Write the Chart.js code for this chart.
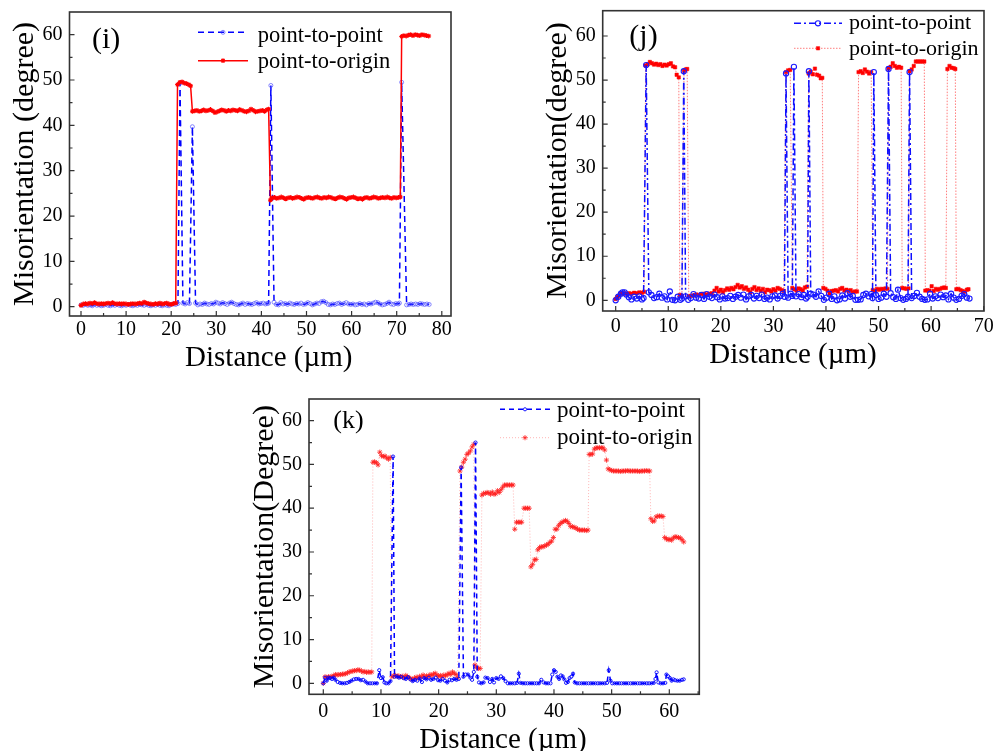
<!DOCTYPE html>
<html>
<head>
<meta charset="utf-8">
<script src="https://cdn.jsdelivr.net/npm/chart.js@4.4.1/dist/chart.umd.min.js"></script>
<style>
  body { margin: 0; background: #fff; }
  #page { position: relative; width: 995px; height: 751px; overflow: hidden; background: #fff; }
  .panel { position: absolute; }
  .panel canvas { display: block; }
</style>
</head>
<body>
<div id="page">
  <div class="panel" style="left:0px;top:0px"><canvas id="chartI" width="460" height="375"></canvas></div>
  <div class="panel" style="left:530px;top:0px"><canvas id="chartJ" width="465" height="375"></canvas></div>
  <div class="panel" style="left:240px;top:385px"><canvas id="chartK" width="470" height="366"></canvas></div>
</div>
<script>
// ---- text ----
const seriesNames = ['point-to-point', 'point-to-origin'];
const panelLabels = ['(i)', '(j)', '(k)'];
const xTitle = 'Distance (µm)';
const yTitles = ['Misorientation (degree)', 'Misorientation(degree)', 'Misorientation(Degree)'];

// ---- ticks ----
const yTicks = [0, 10, 20, 30, 40, 50, 60];
const yMinor = [5, 15, 25, 35, 45, 55];
const xTicksI = [0, 10, 20, 30, 40, 50, 60, 70, 80];
const xMinorI = [5, 15, 25, 35, 45, 55, 65, 75];
const xTicksJ = [0, 10, 20, 30, 40, 50, 60, 70];
const xMinorJ = [5, 15, 25, 35, 45, 55, 65];
const xTicksK = [0, 10, 20, 30, 40, 50, 60];
const xMinorK = [5, 15, 25, 35, 45, 55, 65];

// ---- (i) point-to-point ----
const ptpDistI = [
  0, 0.5, 1, 1.5, 2, 2.5, 3, 3.5, 4, 4.5,
  5, 5.5, 6, 6.5, 7, 7.5, 8, 8.5, 9, 9.5,
  10, 10.5, 11, 11.5, 12, 12.5, 13, 13.5, 14, 14.5,
  15, 15.5, 16, 16.5, 17, 17.5, 18, 18.5, 19, 19.5,
  20, 20.5, 21, 21.5, 21.95, 22.6, 23.1, 23.6, 24.05, 24.7,
  25.4, 25.9, 26.4, 26.9, 27.4, 27.9, 28.4, 28.9, 29.4, 29.9,
  30.4, 30.9, 31.4, 31.9, 32.4, 32.9, 33.4, 33.9, 34.4, 34.9,
  35.4, 35.9, 36.4, 36.9, 37.4, 37.9, 38.4, 38.9, 39.4, 39.9,
  40.4, 40.9, 41.3, 41.6, 42.1, 42.8, 43.3, 43.8, 44.3, 44.8,
  45.3, 45.8, 46.3, 46.8, 47.3, 47.8, 48.3, 48.8, 49.3, 49.8,
  50.3, 50.8, 51.3, 51.8, 52.3, 52.8, 53.3, 53.8, 54.3, 54.8,
  55.3, 55.8, 56.3, 56.8, 57.3, 57.8, 58.3, 58.8, 59.3, 59.8,
  60.3, 60.8, 61.3, 61.8, 62.3, 62.8, 63.3, 63.8, 64.3, 64.8,
  65.3, 65.8, 66.3, 66.8, 67.3, 67.8, 68.3, 68.8, 69.3, 69.8,
  70.3, 70.6, 71.1, 72.2, 72.7, 73.2, 73.7, 74.2, 74.7, 75.2,
  75.7, 76.2, 76.7, 77.2
];
const ptpI = [
  0.4, 0.3, 0.5, 0.3, 0.4, 0.2, 0.5, 0.3, 0.4, 0.2,
  0.3, 0.5, 0.3, 0.2, 0.4, 0.3, 0.5, 0.3, 0.2, 0.4,
  0.3, 0.5, 0.3, 0.2, 0.4, 0.3, 0.5, 0.4, 0.3, 0.5,
  0.3, 0.2, 0.4, 0.3, 0.5, 0.3, 0.2, 0.4, 0.3, 0.2,
  0.5, 0.6, 0.5, 0.7, 49.3, 0.8, 0.6, 0.9, 0.7, 39.7,
  0.8, 0.4, 0.6, 0.5, 0.8, 0.6, 0.5, 0.7, 0.6, 1.0,
  0.8, 0.6, 0.9, 0.7, 0.5, 0.8, 1.0, 0.7, 0.5, 0.4,
  0.6, 0.8, 0.5, 0.7, 0.6, 0.5, 0.7, 0.9, 0.6, 0.7,
  0.8, 0.6, 0.7, 0.8, 48.8, 1.0, 0.5, 0.4, 0.9, 0.6,
  0.7, 0.5, 0.8, 0.6, 0.5, 0.7, 0.6, 0.8, 0.5, 0.6,
  0.9, 0.7, 0.4, 0.6, 0.8, 0.7, 1.1, 1.2, 0.9, 0.5,
  0.4, 0.6, 0.5, 0.7, 0.8, 0.5, 0.7, 0.9, 0.6, 0.5,
  0.6, 0.4, 0.5, 0.7, 0.5, 0.6, 0.4, 0.7, 0.6, 0.8,
  1.0, 0.9, 0.6, 0.4, 0.5, 0.7, 1.0, 0.6, 0.5, 0.7,
  0.6, 0.8, 49.5, 0.4, 0.5, 0.6, 0.5, 0.6, 0.5, 0.7,
  0.6, 0.5, 0.6, 0.5
];

// ---- (i) point-to-origin ----
const ptoDistI = [
  0, 0.5, 1, 1.5, 2, 2.5, 3, 3.5, 4, 4.5,
  5, 5.5, 6, 6.5, 7, 7.5, 8, 8.5, 9, 9.5,
  10, 10.5, 11, 11.5, 12, 12.5, 13, 13.5, 14, 14.5,
  15, 15.5, 16, 16.5, 17, 17.5, 18, 18.5, 19, 19.5,
  20, 20.5, 21, 21.4, 21.9, 22.4, 22.9, 23.4, 23.9, 24.3,
  24.7, 25.2, 25.7, 26.2, 26.7, 27.2, 27.7, 28.2, 28.7, 29.2,
  29.7, 30.2, 30.7, 31.2, 31.7, 32.2, 32.7, 33.2, 33.7, 34.2,
  34.7, 35.2, 35.7, 36.2, 36.7, 37.2, 37.7, 38.2, 38.7, 39.2,
  39.7, 40.2, 40.7, 41.2, 41.6, 42.0, 42.4, 42.9, 43.4, 43.9,
  44.4, 44.9, 45.4, 45.9, 46.4, 46.9, 47.4, 47.9, 48.4, 48.9,
  49.4, 49.9, 50.4, 50.9, 51.4, 51.9, 52.4, 52.9, 53.4, 53.9,
  54.4, 54.9, 55.4, 55.9, 56.4, 56.9, 57.4, 57.9, 58.4, 58.9,
  59.4, 59.9, 60.4, 60.9, 61.4, 61.9, 62.4, 62.9, 63.4, 63.9,
  64.4, 64.9, 65.4, 65.9, 66.4, 66.9, 67.4, 67.9, 68.4, 68.9,
  69.4, 69.9, 70.4, 70.8, 71.1, 71.6, 72.1, 72.6, 73.1, 73.6,
  74.1, 74.6, 75.1, 75.6, 76.1, 76.6, 77.1
];
const ptoI = [
  0.3, 0.6, 0.7, 0.6, 0.8, 0.7, 0.9, 0.7, 0.6, 0.7,
  0.6, 0.7, 0.8, 0.7, 0.9, 0.7, 0.6, 0.7, 0.6, 0.7,
  0.6, 0.5, 0.6, 0.7, 0.6, 0.7, 0.8, 0.7, 1.0, 0.8,
  0.7, 0.6, 0.5, 0.7, 0.6, 0.8, 0.6, 0.7, 0.8, 0.6,
  0.5, 0.7, 0.8, 49.0, 49.5, 49.6, 49.3, 49.2, 49.0, 48.7,
  43.1, 43.2, 43.3, 43.1, 43.2, 43.4, 43.2, 43.3, 43.5, 43.2,
  42.8, 43.0, 43.2, 43.4, 43.3, 43.1, 43.3, 43.2, 43.4, 43.3,
  43.2, 43.5, 43.3, 43.1, 43.0, 43.2, 43.6, 43.3, 43.0, 43.1,
  43.2, 43.3, 43.1, 43.4, 43.6, 23.5, 24.0, 24.1, 23.9, 24.0,
  24.2, 24.0, 23.8, 24.0, 24.1, 23.9, 24.0, 24.2, 24.1, 23.9,
  23.7, 24.0, 24.1, 24.0, 23.9, 24.1, 24.2, 24.0, 23.9, 24.1,
  24.0, 24.2, 24.1, 23.9, 23.8, 24.0, 24.2, 24.1, 23.9, 23.7,
  24.0, 24.1, 24.2, 24.0, 23.8, 23.9, 23.7, 24.0, 24.1, 23.9,
  24.0, 24.2, 24.1, 23.9, 24.0, 24.1, 24.0, 24.2, 24.0, 23.9,
  24.1, 24.0, 24.1, 24.2, 59.6, 59.8, 59.7, 59.9, 60.0, 59.8,
  60.0, 59.9, 59.8, 60.0, 59.9, 59.8, 59.7
];

// ---- (j) point-to-point ----
const ptpDistJ = [
  0, 0.5, 1, 1.3, 1.7, 2, 2.5, 3, 3.5, 4,
  4.5, 5, 5.3, 5.8, 6.3, 6.8, 7.3, 7.8, 8.3, 8.8,
  9.3, 9.8, 10.3, 10.8, 11.3, 11.8, 12.3, 12.6, 12.95, 13.3,
  13.8, 14.3, 14.8, 15.3, 15.8, 16.3, 16.8, 17.3, 17.8, 18.3,
  18.8, 19.3, 19.8, 20.3, 20.8, 21.3, 21.8, 22.3, 22.8, 23.3,
  23.8, 24.3, 24.8, 25.3, 25.8, 26.3, 26.8, 27.3, 27.8, 28.3,
  28.8, 29.3, 29.8, 30.3, 30.8, 31.3, 31.8, 32.1, 32.4, 32.8,
  33.3, 33.6, 33.9, 34.3, 34.8, 35.3, 35.8, 36.2, 36.5, 36.75,
  37.1, 37.6, 38.1, 38.6, 39.1, 39.6, 40.1, 40.6, 41.1, 41.6,
  42.1, 42.6, 43.1, 43.6, 44.1, 44.6, 45.1, 45.6, 46.1, 46.6,
  47.1, 47.6, 48.1, 48.6, 48.85, 49.1, 49.5, 50, 50.5, 51,
  51.5, 51.9, 52.3, 52.8, 53.3, 53.7, 54.2, 54.7, 55.2, 55.6,
  55.9, 56.3, 56.8, 57.3, 57.8, 58.3, 58.8, 59.3, 59.8, 60.3,
  60.8, 61.3, 61.8, 62.3, 62.8, 63.3, 63.8, 64.3, 64.8, 65.3,
  65.8, 66.3, 66.8, 67.3
];
const ptpJ = [
  0, 0.8, 1.5, 1.8, 1.8, 1.3, 0.7, 0.2, 0.8, 0.4,
  0.9, 0.2, 0.5, 53.4, 1.8, 1.2, 0.5, 0.7, 1.5, 0.6,
  0.9, 0.2, 2.0, 0.1, 0, 0.8, 0.1, 0.4, 52.0, 0.9,
  0.1, 0.5, 1.4, 0.6, 0.4, 1.2, 0.3, 1.4, 0.8, 0.5,
  1.3, 0.7, 0.2, 0.9, 0.4, 0.5, 1.0, 0.3, 0.8, 1.2,
  0.6, 1.3, 0.2, 0.9, 1.2, 0.4, 1.0, 0.5, 1.3, 0.3,
  0.6, 0.2, 0.9, 1.1, 0.4, 1.0, 1.5, 0.8, 51.5, 0.6,
  1.5, 1.0, 53.0, 0.9, 1.4, 0.7, 1.2, 0.4, 0.8, 52.0,
  1.5, 1.3, 0.8, 2.0, 1.0, 0.1, 0.6, 1.5, 0.3, 0.9,
  0, 0.2, 1.1, 0.4, 1.6, 0.8, 1.0, 0.1, 0.1, 0.2,
  1.2, 1.5, 0.9, 1.4, 0.5, 51.8, 1.2, 0.3, 0.6, 1.5,
  0.8, 52.5, 1.6, 0.7, 0.3, 2.4, 0.5, 0.1, 0.3, 0.8,
  51.8, 0.5, 1.0, 1.7, 0.8, 0.3, 0.1, 0.2, 1.5, 0.4,
  0.9, 0.5, 1.3, 0.7, 1.1, 0.2, 1.5, 0.6, 0.1, 0.3,
  1.0, 1.4, 0.6, 0.4
];

// ---- (j) point-to-origin ----
const ptoDistJ = [
  0, 0.3, 0.6, 1, 1.5, 2, 2.5, 3, 3.5, 4,
  4.5, 5, 5.4, 5.7, 6.1, 6.5, 6.9, 7.3, 7.7, 8.1,
  8.5, 8.9, 9.3, 9.7, 10.1, 10.5, 10.9, 11.3, 11.6, 12.0,
  12.2, 12.6, 13.0, 13.3, 13.6, 13.9, 14.3, 14.8, 15.3, 15.8,
  16.3, 16.8, 17.3, 17.8, 18.3, 18.8, 19.2, 19.6, 20.0, 20.4,
  20.8, 21.2, 21.6, 22.0, 22.4, 22.8, 23.2, 23.6, 24.0, 24.4,
  24.8, 25.2, 25.6, 26.0, 26.4, 26.8, 27.2, 27.6, 28.0, 28.4,
  28.8, 29.2, 29.6, 30.0, 30.4, 30.8, 31.2, 31.6, 32.0, 32.4,
  32.8, 33.2, 33.6, 34.0, 34.4, 34.8, 35.2, 35.6, 36.0, 36.4,
  36.7, 37.1, 37.5, 37.9, 38.3, 38.7, 39.0, 39.3, 39.5, 39.9,
  40.3, 40.7, 41.1, 41.5, 41.9, 42.3, 42.7, 43.1, 43.5, 43.9,
  44.3, 44.7, 45.1, 45.5, 45.9, 46.2, 46.6, 47.0, 47.4, 47.8,
  48.2, 48.6, 48.9, 49.3, 49.7, 50.1, 50.5, 50.9, 51.3, 51.7,
  51.9, 52.3, 52.7, 53.1, 53.5, 53.9, 54.3, 54.5, 54.9, 55.3,
  55.7, 55.9, 56.3, 56.7, 57.1, 57.5, 57.9, 58.3, 58.7, 58.9,
  59.3, 59.7, 60.1, 60.5, 60.9, 61.3, 61.7, 62.1, 62.5, 62.8,
  63.1, 63.5, 63.9, 64.3, 64.6, 64.8, 65.2, 65.6, 66.0, 66.4,
  66.8, 67.1
];
const ptoJ = [
  0.3, 0.7, 1.0, 1.5, 1.6, 1.5, 1.6, 1.5, 1.7, 1.6,
  1.8, 1.7, 1.9, 53.3, 53.6, 54.1, 53.8, 53.5, 53.7, 53.4,
  53.6, 53.2, 53.5, 53.3, 53.6, 53.8, 53.1, 52.9, 51.2, 50.6,
  1.2, 1.0, 52.1, 52.4, 52.5, 0.9, 1.0, 1.1, 1.3, 1.2,
  1.4, 1.5, 1.3, 1.5, 1.6, 2.2, 2.8, 2.0, 2.4, 1.8,
  2.3, 2.7, 2.4, 2.8, 2.5, 3.0, 3.5, 2.9, 3.2, 2.6,
  2.9, 2.4, 1.8, 2.6, 3.0, 2.3, 2.7, 2.1, 2.6, 1.8,
  2.4, 2.3, 2.0, 2.5, 2.2, 2.8, 2.6, 2.3, 2.1, 51.8,
  52.2, 52.3, 2.8, 2.5, 2.2, 2.7, 2.5, 2.2, 2.9, 3.1,
  51.5, 51.9, 51.3, 52.6, 51.2, 51.0, 50.4, 50.5, 2.8, 2.6,
  2.2, 1.6, 2.1, 2.2, 2.3, 2.0, 2.6, 2.8, 2.2, 2.4,
  2.1, 2.3, 1.8, 2.0, 2.0, 51.8, 52.0, 51.6, 52.4, 51.9,
  51.5, 51.8, 2.3, 2.1, 2.6, 2.4, 2.6, 2.5, 2.7, 2.6,
  52.6, 53.0, 53.8, 53.2, 52.8, 53.0, 52.8, 2.8, 2.7, 2.6,
  2.7, 52.0, 52.4, 53.2, 54.2, 54.2, 54.2, 54.2, 54.2, 2.2,
  2.3, 2.2, 3.2, 2.1, 2.6, 2.4, 2.6, 2.8, 2.9, 2.8,
  52.5, 53.2, 52.8, 52.7, 52.5, 2.5, 2.6, 2.3, 2.1, 1.9,
  2.4, 2.5
];

// ---- (k) point-to-point ----
const ptpDistK = [
  0, 0.3, 0.6, 0.9, 1.2, 1.5, 1.8, 2.1, 2.5, 2.9,
  3.3, 3.7, 4.1, 4.5, 4.9, 5.3, 5.7, 6.1, 6.5, 6.9,
  7.3, 7.7, 8.1, 8.5, 8.9, 9.3, 9.7, 10.0, 10.3, 10.6,
  10.9, 11.3, 11.65, 12.1, 12.35, 12.7, 13.1, 13.5, 13.9, 14.3,
  14.7, 15.1, 15.5, 15.9, 16.3, 16.7, 17.1, 17.5, 17.9, 18.3,
  18.7, 19.1, 19.5, 19.9, 20.3, 20.7, 21.1, 21.5, 21.9, 22.3,
  22.7, 23.1, 23.5, 23.9, 24.3, 24.7, 25.1, 25.5, 25.8, 26.1,
  26.4, 26.7, 27.0, 27.4, 27.8, 28.1, 28.5, 28.9, 29.3, 29.6,
  30.0, 30.4, 30.8, 31.2, 31.6, 32.0, 32.4, 32.8, 33.2, 33.6,
  33.9, 34.2, 34.6, 35.0, 35.4, 35.8, 36.2, 36.6, 37.0, 37.4,
  37.8, 38.2, 38.6, 39.0, 39.4, 39.7, 40.0, 40.3, 40.6, 40.9,
  41.2, 41.5, 41.8, 42.1, 42.4, 42.7, 43.0, 43.3, 43.6, 44.0,
  44.4, 44.8, 45.2, 45.6, 46.0, 46.4, 46.8, 47.2, 47.6, 48.0,
  48.4, 48.8, 49.2, 49.5, 49.8, 50.1, 50.5, 50.9, 51.3, 51.7,
  52.1, 52.5, 52.9, 53.3, 53.7, 54.1, 54.5, 54.9, 55.3, 55.7,
  56.1, 56.5, 56.9, 57.3, 57.6, 57.8, 58.1, 58.5, 58.9, 59.3,
  59.5, 59.8, 60.1, 60.4, 60.7, 61.0, 61.4, 61.8, 62.2, 62.5
];
const ptpK = [
  0, 1.3, 0.6, 1.3, 1.2, 1.0, 1.3, 0.8, 0.3, 0.1,
  0, 0, 0.1, 0.3, 0.6, 0.9, 1.0, 1.0, 0.7, 0.8,
  0.4, 0, 0, 0, 0, 0, 3.0, 1.2, 1.4, 0.2,
  0, 0, 0.5, 51.8, 1.5, 1.6, 1.3, 1.5, 1.2, 1.0,
  1.4, 0.9, 0.5, 0.8, 0.6, 1.1, 0.3, 1.2, 0.9, 1.3,
  0.8, 1.0, 1.3, 0.7, 0.6, 1.0, 0.6, 0.2, 0.8, 0.7,
  1.0, 0.8, 1.0, 49.3, 1.5, 2.0, 2.0, 1.3, 0.8, 2.6,
  55.0, 1.5, 0.2, 0, 0.2, 1.3, 1.2, 0.3, 1.0, 0.2,
  1.2, 1.0, 1.6, 1.2, 0.5, 0, 0, 0, 0, 0.1,
  2.2, 0.1, 0, 0, 0, 0, 0, 0, 0, 0,
  0.8, 0.2, 0, 0, 0, 2.0, 3.0, 2.6, 1.5, 1.0,
  1.8, 1.6, 0.9, 0.1, 0.3, 1.2, 1.5, 2.2, 0.2, 0,
  0, 0, 0, 0, 0, 0, 0, 0, 0, 0,
  0, 0, 0.1, 3.0, 0.6, 0, 0, 0, 0, 0,
  0, 0, 0, 0, 0, 0, 0, 0, 0, 0,
  0, 0, 0, 0.1, 1.0, 2.5, 0.2, 0, 0, 0.1,
  2.0, 1.6, 1.2, 0.6, 0.9, 0.7, 0.6, 0.6, 0.8, 0.9
];

// ---- (k) point-to-origin ----
const ptoDistK = [
  0, 0.3, 0.6, 0.9, 1.2, 1.5, 1.8, 2.1, 2.4, 2.7,
  3.0, 3.3, 3.6, 3.9, 4.2, 4.5, 4.8, 5.1, 5.4, 5.7,
  6.0, 6.3, 6.6, 6.9, 7.2, 7.5, 7.8, 8.1, 8.4, 8.6,
  8.9, 9.2, 9.5, 9.8, 10.1, 10.4, 10.7, 11.0, 11.3, 11.6,
  11.9, 12.2, 12.5, 12.8, 13.1, 13.4, 13.7, 14.0, 14.3, 14.6,
  14.9, 15.2, 15.5, 15.8, 16.1, 16.4, 16.7, 17.0, 17.3, 17.6,
  17.9, 18.2, 18.5, 18.8, 19.1, 19.4, 19.7, 20.0, 20.3, 20.6,
  20.9, 21.2, 21.5, 21.8, 22.1, 22.4, 22.7, 23.0, 23.3, 23.7,
  24.0, 24.3, 24.6, 24.9, 25.2, 25.5, 25.8, 26.1, 26.3, 26.6,
  26.9, 27.2, 27.5, 27.8, 28.1, 28.4, 28.7, 29.0, 29.3, 29.6,
  29.9, 30.2, 30.5, 30.8, 31.1, 31.4, 31.7, 32.0, 32.3, 32.6,
  32.9, 33.2, 33.5, 33.8, 34.1, 34.4, 34.8, 35.1, 35.4, 35.7,
  36.0, 36.3, 36.6, 36.9, 37.2, 37.5, 37.8, 38.1, 38.4, 38.7,
  39.0, 39.3, 39.6, 39.9, 40.2, 40.5, 40.8, 41.1, 41.4, 41.7,
  42.0, 42.3, 42.6, 42.9, 43.2, 43.5, 43.8, 44.1, 44.4, 44.7,
  45.0, 45.3, 45.6, 45.9, 46.1, 46.4, 46.7, 47.0, 47.3, 47.6,
  47.9, 48.2, 48.5, 48.8, 49.1, 49.4, 49.7, 50.0, 50.3, 50.6,
  50.9, 51.2, 51.5, 51.8, 52.1, 52.4, 52.7, 53.0, 53.3, 53.6,
  53.9, 54.2, 54.5, 54.8, 55.1, 55.4, 55.7, 56.0, 56.3, 56.6,
  56.8, 57.1, 57.4, 57.7, 58.0, 58.3, 58.6, 58.9, 59.2, 59.5,
  59.8, 60.1, 60.4, 60.7, 61.0, 61.3, 61.6, 61.9, 62.2, 62.5
];
const ptoK = [
  0, 1.5, 1.3, 1.5, 1.4, 1.6, 1.7, 2.0, 1.9, 2.0,
  2.0, 2.1, 2.1, 2.2, 2.4, 2.6, 2.7, 2.8, 2.9, 2.9,
  3.1, 3.0, 2.8, 2.6, 2.7, 2.5, 2.6, 2.5, 2.6, 50.5,
  50.6, 50.4, 49.9, 52.8, 52.0, 51.8, 51.9, 51.5, 51.2, 51.6,
  1.5, 1.7, 1.8, 1.6, 1.7, 1.5, 1.6, 1.3, 1.8, 1.5,
  1.3, 1.0, 0.9, 1.2, 1.4, 1.2, 1.6, 1.4, 1.9, 1.5,
  1.7, 1.6, 2.0, 1.8, 2.1, 2.3, 1.9, 1.6, 1.8, 1.5,
  1.9, 1.7, 2.0, 2.3, 2.0, 2.6, 2.3, 2.0, 1.3, 48.5,
  49.4, 50.5, 51.2, 52.3, 52.6, 53.1, 54.0, 54.6, 4.2, 3.6,
  3.4, 3.4, 43.0, 43.4, 43.4, 43.6, 43.5, 43.2, 43.7, 43.2,
  43.3, 44.0, 43.6, 44.2, 44.8, 45.3, 45.3, 45.3, 45.3, 45.3,
  45.3, 35.2, 36.8, 36.8, 36.8, 36.8, 40.0, 40.0, 40.0, 40.0,
  26.6, 27.2, 28.2, 28.3, 30.5, 31.0, 31.2, 31.2, 31.4, 31.6,
  31.8, 32.2, 32.5, 33.3, 35.2, 35.2, 36.0, 36.5, 36.8, 37.0,
  37.2, 37.0, 36.5, 35.8, 35.8, 35.6, 35.5, 35.2, 35.0, 35.0,
  35.0, 35.0, 34.9, 35.0, 52.3, 52.3, 52.4, 53.5, 53.8, 53.8,
  53.8, 53.8, 53.8, 53.3, 51.0, 49.0, 48.8, 48.6, 48.5, 48.5,
  48.5, 48.5, 48.4, 48.5, 48.5, 48.5, 48.6, 48.5, 48.5, 48.5,
  48.5, 48.5, 48.5, 48.4, 48.5, 48.5, 48.5, 48.6, 48.5, 48.5,
  37.6, 37.0, 37.1, 38.0, 38.2, 38.2, 38.2, 38.1, 33.3, 33.0,
  32.8, 32.9, 32.7, 33.2, 33.5, 33.4, 33.3, 33.2, 32.8, 32.3
];

const SERIF = '"Liberation Serif", "Times New Roman", serif';
Chart.defaults.font.family = SERIF;
Chart.defaults.color = '#000';

function toPoints(xs, ys) {
  return xs.map(function (x, i) { return { x: x, y: ys[i] }; });
}

// marker for the legend samples
function drawMarker(ctx, style, x, y, r) {
  ctx.beginPath();
  if (style === 'circle') {
    ctx.arc(x, y, r, 0, Math.PI * 2);
    ctx.fill();
    ctx.stroke();
  } else if (style === 'rect') {
    var s = r * Math.SQRT1_2;
    ctx.rect(x - s, y - s, 2 * s, 2 * s);
    ctx.fill();
    ctx.stroke();
  } else {
    var d = r * Math.SQRT1_2;
    ctx.moveTo(x - r, y); ctx.lineTo(x + r, y);
    ctx.moveTo(x, y - r); ctx.lineTo(x, y + r);
    ctx.moveTo(x - d, y - d); ctx.lineTo(x + d, y + d);
    ctx.moveTo(x - d, y + d); ctx.lineTo(x + d, y - d);
    ctx.stroke();
  }
}

// frame, inside ticks, legend, panel label and axis titles
function decorations(cfg) {
  return {
    id: 'decorations',
    afterDraw: function (chart) {
      var ctx = chart.ctx;
      var area = chart.chartArea;
      var xs = chart.scales.x, ys = chart.scales.y;
      ctx.save();
      ctx.strokeStyle = '#333';
      ctx.lineWidth = 1.6;
      ctx.strokeRect(area.left, area.top, area.right - area.left, area.bottom - area.top);

      ctx.lineWidth = 1.2;
      ctx.beginPath();
      cfg.xTicks.forEach(function (v) {
        var p = xs.getPixelForValue(v);
        ctx.moveTo(p, area.bottom); ctx.lineTo(p, area.bottom - 5);
      });
      cfg.xMinor.forEach(function (v) {
        var p = xs.getPixelForValue(v);
        ctx.moveTo(p, area.bottom); ctx.lineTo(p, area.bottom - 3);
      });
      yTicks.forEach(function (v) {
        var p = ys.getPixelForValue(v);
        ctx.moveTo(area.left, p); ctx.lineTo(area.left + 5, p);
      });
      yMinor.forEach(function (v) {
        var p = ys.getPixelForValue(v);
        ctx.moveTo(area.left, p); ctx.lineTo(area.left + 3, p);
      });
      ctx.stroke();

      // legend
      chart.data.datasets.forEach(function (ds, i) {
        var row = cfg.legend[i];
        ctx.save();
        ctx.strokeStyle = ds.borderColor;
        ctx.lineWidth = ds.borderWidth;
        ctx.setLineDash(ds.borderDash || []);
        ctx.beginPath();
        ctx.moveTo(row.x1, row.y);
        ctx.lineTo(row.x2, row.y);
        ctx.stroke();
        ctx.setLineDash([]);
        ctx.strokeStyle = ds.pointBorderColor;
        ctx.fillStyle = ds.pointBackgroundColor;
        ctx.lineWidth = ds.pointBorderWidth;
        drawMarker(ctx, ds.pointStyle, (row.x1 + row.x2) / 2, row.y, ds.pointRadius);
        ctx.restore();
        ctx.fillStyle = '#000';
        ctx.font = cfg.legendFont + 'px ' + SERIF;
        ctx.textAlign = 'left';
        ctx.textBaseline = 'alphabetic';
        ctx.fillText(ds.label, row.textX, row.base);
      });

      ctx.fillStyle = '#000';
      ctx.textBaseline = 'alphabetic';
      ctx.textAlign = 'left';
      ctx.font = cfg.panelFont + 'px ' + SERIF;
      ctx.fillText(cfg.panel, cfg.panelX, cfg.panelBase);

      ctx.textAlign = 'center';
      ctx.font = '29px ' + SERIF;
      ctx.fillText(xTitle, cfg.xTitleX, cfg.xTitleBase);

      ctx.translate(cfg.yTitleBase, cfg.yTitleY);
      ctx.rotate(-Math.PI / 2);
      ctx.font = '30px ' + SERIF;
      ctx.fillText(cfg.yTitle, 0, 0);
      ctx.restore();
    }
  };
}

function buildChart(id, cfg) {
  var tickFont = { family: SERIF, size: 20 };
  return new Chart(document.getElementById(id).getContext('2d'), {
    type: 'scatter',
    data: { datasets: cfg.datasets },
    options: {
      responsive: false,
      animation: false,
      events: [],
      layout: { padding: cfg.padding },
      plugins: { legend: { display: false }, tooltip: { enabled: false } },
      scales: {
        x: {
          type: 'linear',
          position: 'bottom',
          min: cfg.xMin,
          max: cfg.xMax,
          grid: { display: false, drawTicks: false },
          border: { display: false },
          ticks: { font: tickFont, color: '#000', padding: cfg.xPad, autoSkip: false, maxRotation: 0, minRotation: 0 },
          afterBuildTicks: function (s) { s.ticks = cfg.xTicks.map(function (v) { return { value: v }; }); },
          afterFit: function (s) { s.height = cfg.xHeight; s.paddingLeft = 0; s.paddingRight = 0; }
        },
        y: {
          type: 'linear',
          position: 'left',
          min: cfg.yMin,
          max: cfg.yMax,
          grid: { display: false, drawTicks: false },
          border: { display: false },
          ticks: { font: tickFont, color: '#000', padding: 7, autoSkip: false },
          afterBuildTicks: function (s) { s.ticks = yTicks.map(function (v) { return { value: v }; }); },
          afterFit: function (s) { s.width = cfg.yWidth; s.paddingTop = 0; s.paddingBottom = 0; }
        }
      }
    },
    plugins: [decorations(cfg)]
  });
}

// (i)
buildChart('chartI', {
  padding: { left: 0, top: 12, right: 9, bottom: 0 },
  yWidth: 69.5, xHeight: 59,
  xMin: -2.55, xMax: 82.04, yMin: -2.05, yMax: 65.0,
  xTicks: xTicksI, xMinor: xMinorI, xPad: 2,
  legend: [
    { x1: 198, x2: 248, y: 32.3, textX: 257.7, base: 41.7 },
    { x1: 198, x2: 248, y: 60.7, textX: 257.7, base: 68.3 }
  ],
  legendFont: 22.5,
  panel: panelLabels[0], panelFont: 30, panelX: 92, panelBase: 47.7,
  xTitleX: 268.7, xTitleBase: 366,
  yTitle: yTitles[0], yTitleBase: 33.3, yTitleY: 164,
  datasets: [
    {
      label: seriesNames[0],
      data: toPoints(ptpDistI, ptpI),
      showLine: true,
      borderColor: '#0000ff',
      borderWidth: 1.5,
      borderDash: [6, 4],
      pointStyle: 'circle',
      pointRadius: 2,
      pointBorderWidth: 0.8,
      pointBorderColor: 'rgba(70,70,255,0.8)',
      pointBackgroundColor: 'rgba(255,255,255,0)',
      order: 1
    },
    {
      label: seriesNames[1],
      data: toPoints(ptoDistI, ptoI),
      showLine: true,
      borderColor: '#ff0000',
      borderWidth: 1.5,
      pointStyle: 'star',
      pointRadius: 2.4,
      pointBorderWidth: 1.1,
      pointBorderColor: '#ff0000',
      pointBackgroundColor: '#ff0000',
      order: 0
    }
  ]
});

// (j)
buildChart('chartJ', {
  padding: { left: 0, top: 10.7, right: 11, bottom: 0 },
  yWidth: 72.7, xHeight: 64,
  xMin: -2.47, xMax: 70.06, yMin: -2.43, yMax: 65.74,
  xTicks: xTicksJ, xMinor: xMinorJ, xPad: 3.6,
  legend: [
    { x1: 264, x2: 312, y: 23.3, textX: 319, base: 29.3 },
    { x1: 264, x2: 312, y: 48.3, textX: 319, base: 55 }
  ],
  legendFont: 22,
  panel: panelLabels[1], panelFont: 30, panelX: 99.3, panelBase: 45.3,
  xTitleX: 263, xTitleBase: 363,
  yTitle: yTitles[1], yTitleBase: 36, yTitleY: 160.5,
  datasets: [
    {
      label: seriesNames[0],
      data: toPoints(ptpDistJ, ptpJ),
      showLine: true,
      borderColor: '#1010ff',
      borderWidth: 1.5,
      borderDash: [7, 3, 2, 3],
      pointStyle: 'circle',
      pointRadius: 2.6,
      pointBorderWidth: 1.1,
      pointBorderColor: '#1a1aff',
      pointBackgroundColor: 'rgba(255,255,255,0)'
    },
    {
      label: seriesNames[1],
      data: toPoints(ptoDistJ, ptoJ),
      showLine: true,
      borderColor: 'rgba(255,40,40,0.6)',
      borderWidth: 1,
      borderDash: [1.5, 1.5],
      pointStyle: 'rect',
      pointRadius: 2.4,
      pointBorderWidth: 0.5,
      pointBorderColor: '#ff0000',
      pointBackgroundColor: '#ff0000'
    }
  ]
});

// (k)
buildChart('chartK', {
  padding: { left: 0, top: 14, right: 10.7, bottom: 0 },
  yWidth: 69, xHeight: 56.7,
  xMin: -2.48, xMax: 65.2, yMin: -2.51, yMax: 64.95,
  xTicks: xTicksK, xMinor: xMinorK, xPad: 5.3,
  legend: [
    { x1: 260, x2: 310, y: 24.3, textX: 317, base: 31.7 },
    { x1: 260, x2: 310, y: 52.7, textX: 317, base: 59.3 }
  ],
  legendFont: 23,
  panel: panelLabels[2], panelFont: 26, panelX: 93.3, panelBase: 42.5,
  xTitleX: 263, xTitleBase: 362.7,
  yTitle: yTitles[2], yTitleBase: 33.3, yTitleY: 161.7,
  datasets: [
    {
      label: seriesNames[0],
      data: toPoints(ptpDistK, ptpK),
      showLine: true,
      borderColor: '#0000ff',
      borderWidth: 1.5,
      borderDash: [5, 4],
      pointStyle: 'circle',
      pointRadius: 1.6,
      pointBorderWidth: 0.9,
      pointBorderColor: '#0000ff',
      pointBackgroundColor: 'rgba(255,255,255,0)'
    },
    {
      label: seriesNames[1],
      data: toPoints(ptoDistK, ptoK),
      showLine: true,
      borderColor: 'rgba(255,90,90,0.45)',
      borderWidth: 1,
      borderDash: [1, 2],
      pointStyle: 'star',
      pointRadius: 2.6,
      pointBorderWidth: 1,
      pointBorderColor: 'rgba(255,30,30,0.8)',
      pointBackgroundColor: 'rgba(255,30,30,0.8)'
    }
  ]
});
</script>
</body>
</html>
